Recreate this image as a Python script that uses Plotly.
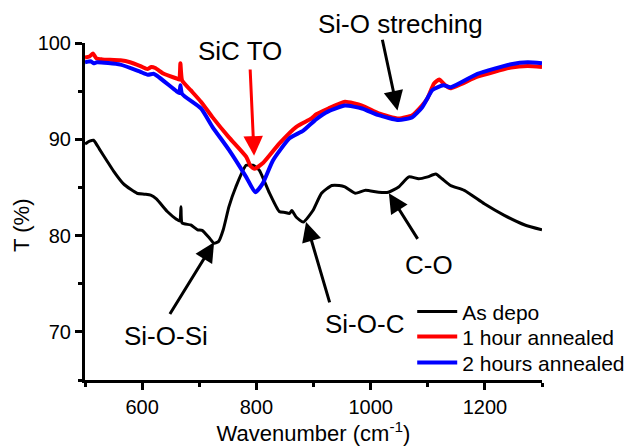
import plotly.graph_objects as go

# ---------------- data ----------------
wn_depo = [500, 508, 515, 525, 538, 550, 567, 580, 591, 605, 615, 625, 644, 660, 666, 668, 670,
           685, 697, 705, 717, 726, 734, 742, 752, 764, 782, 794, 805, 823, 840, 850, 858, 862,
           870, 882, 899, 914, 932, 945, 955, 973, 991, 1014, 1031, 1049, 1067, 1084, 1100,
           1114, 1125, 1140, 1164, 1199, 1234, 1270, 1300]
t_depo = [89.5, 89.8, 89.9, 89.0, 87.8, 86.7, 85.4, 84.8, 84.4, 84.3, 84.2, 83.8, 82.5, 81.7, 81.5,
          83.0, 81.3, 81.1, 80.6, 80.55, 79.8, 79.2, 79.4, 80.6, 83.0, 85.05, 87.3, 87.3, 86.8,
          84.4, 82.5, 82.4, 82.3, 82.6, 81.9, 81.4, 82.6, 84.4, 85.2, 85.2, 85.05, 84.4, 84.7,
          84.5, 84.5, 85.05, 86.1, 85.9, 86.1, 86.4, 85.9, 85.2, 84.7, 83.3, 82.1, 81.1, 80.6]

wn_1h = [500, 508, 514, 520, 530, 562, 579, 597, 609, 616, 623, 638, 661, 665, 667, 670, 685, 703,
         723, 752, 782, 790, 797, 811, 840, 870, 896, 905, 926, 955, 985, 1014, 1049, 1073, 1090,
         1099, 1111, 1120, 1131, 1140, 1187, 1246, 1275, 1300]
t_1h = [98.5, 98.6, 98.9, 98.4, 98.3, 98.2, 98.0, 97.6, 97.3, 97.5, 97.4, 96.8, 96.3, 96.2, 97.9,
        96.1, 95.1, 93.9, 92.3, 90.2, 88.2, 87.2, 86.95, 87.5, 89.55, 91.3, 92.15, 92.6, 93.2,
        93.9, 93.5, 92.7, 92.15, 92.5, 93.5, 94.2, 95.8, 96.2, 95.6, 95.3, 96.5, 97.45, 97.6, 97.5]

wn_2h = [500, 510, 515, 521, 562, 597, 610, 620, 626, 660, 665, 667, 670, 703, 723, 752, 782, 798,
         811, 829, 858, 882, 905, 926, 955, 985, 1014, 1049, 1073, 1090, 1108, 1117, 1128, 1140,
         1187, 1246, 1275, 1300]
t_2h = [98.0, 98.1, 97.9, 98.0, 97.75, 97.0, 96.7, 96.8, 96.6, 95.0, 94.8, 95.6, 94.7, 93.2, 91.3,
        88.9, 86.1, 84.5, 85.4, 87.8, 90.1, 90.9, 92.1, 92.9, 93.5, 93.2, 92.5, 92.0, 92.3, 93.3,
        95.1, 95.4, 95.6, 95.4, 96.8, 97.8, 98.0, 97.9]

series_names = ["As depo", "1 hour annealed", "2 hours annealed"]
series_colors = ["#000000", "#ff0000", "#0000ff"]

x_ticks = [600, 800, 1000, 1200]
y_ticks = [70, 80, 90, 100]

FONT = "Arial, Liberation Sans, sans-serif"

fig = go.Figure()
legend_ids = ["legend", "legend2", "legend3"]
for (wn, t, w), name, col, lg in zip([(wn_depo, t_depo, 3), (wn_1h, t_1h, 4), (wn_2h, t_2h, 4)],
                                     series_names, series_colors, legend_ids):
    fig.add_trace(go.Scatter(x=wn, y=t, mode="lines", name=name, legend=lg,
                             line=dict(color=col, width=w, shape="spline", smoothing=0.5)))

# labels (text only)
labels = [
    ("SiC TO", 771, 99.2),
    ("Si-O-Si", 641, 69.6),
    ("Si-O-C", 990, 70.8),
    ("C-O", 1103, 76.9),
]
for txt, lx, ly in labels:
    fig.add_annotation(x=lx, y=ly, text=txt, showarrow=False,
                       font=dict(family=FONT, size=26, color="black"))
# label above the plot area (paper y)
fig.add_annotation(x=1053, y=(380 - 24) / 337.3, yref="paper", yanchor="middle",
                   text="Si-O streching", showarrow=False,
                   font=dict(family=FONT, size=26, color="black"))

# arrows: (tail_x, tail_y, tip_x, tip_y, color)
arrows = [
    (789, 97.4, 796, 88.3, "#ff0000"),
    (1020, 100.5, 1047, 93.0, "black"),
    (647, 71.7, 726, 79.3, "black"),
    (929, 72.9, 887, 81.4, "black"),
    (1084, 79.5, 1032, 84.4, "black"),
]
for tx, ty, hx, hy, col in arrows:
    fig.add_annotation(x=hx, y=hy, ax=tx, ay=ty, axref="x", ayref="y",
                       text="", showarrow=True, arrowhead=2, arrowsize=1.3,
                       arrowwidth=3, arrowcolor=col, standoff=0, startstandoff=0)

# y title as annotation
fig.add_annotation(text="T (%)", xref="paper", yref="paper", x=-0.138, y=0.46,
                   xanchor="center", yanchor="middle",
                   textangle=-90, showarrow=False,
                   font=dict(family=FONT, size=22, color="black"))

leg_common = dict(x=0.716, xanchor="left", yanchor="top", bgcolor="rgba(0,0,0,0)",
                  font=dict(family=FONT, size=21), itemwidth=40)

fig.update_layout(
    width=627, height=448,
    margin=dict(l=85, r=85, t=43, b=68, autoexpand=False),
    paper_bgcolor="white", plot_bgcolor="white",
    font=dict(family=FONT, size=20, color="black"),
    showlegend=True,
    legend=dict(y=0.263, **leg_common),
    legend2=dict(y=0.189, **leg_common),
    legend3=dict(y=0.112, **leg_common),
    xaxis=dict(range=[500, 1300], tickvals=x_ticks, ticktext=[str(v) for v in x_ticks],
               showline=True, linecolor="black", linewidth=3, mirror=False,
               ticks="outside", ticklen=7, tickwidth=3, tickcolor="black",
               minor=dict(ticks="outside", ticklen=4, tickwidth=3, tickcolor="black",
                          tickvals=[500, 700, 900, 1100, 1300]),
               showgrid=False, zeroline=False,
               title=dict(text="Wavenumber (cm<sup>-1</sup>)", font=dict(size=22), standoff=4),
               tickfont=dict(size=20)),
    yaxis=dict(range=[65, 100], tickvals=y_ticks, ticktext=[str(v) for v in y_ticks],
               showline=True, linecolor="black", linewidth=3, mirror=False,
               ticks="outside", ticklen=7, tickwidth=3, tickcolor="black",
               minor=dict(ticks="outside", ticklen=4, tickwidth=3, tickcolor="black",
                          tickvals=[65, 75, 85, 95]),
               showgrid=False, zeroline=False, tickfont=dict(size=20)),
)

fig.write_html("out.html")
